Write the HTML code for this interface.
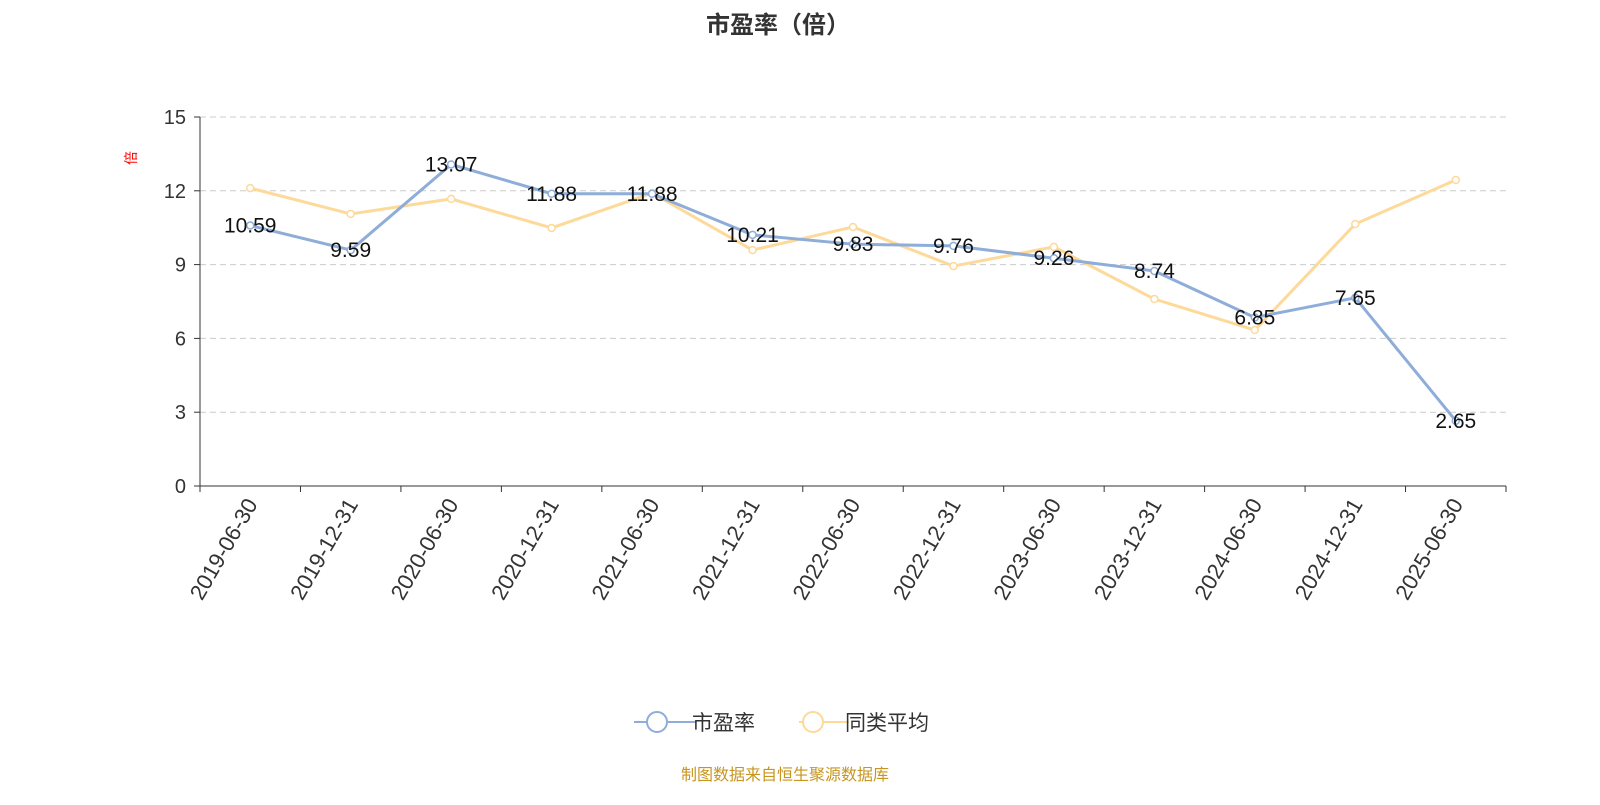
<!DOCTYPE html>
<html><head><meta charset="utf-8"><style>
body{margin:0;background:#fff;}
svg text{font-family:"Liberation Sans","Noto Sans CJK SC",sans-serif;}
</style></head><body>
<svg id="chart" width="1600" height="800" xmlns="http://www.w3.org/2000/svg">
<text x="778" y="33" text-anchor="middle" font-size="24" font-weight="bold" fill="#333">市盈率（倍）</text>
<text x="0" y="0" transform="translate(136,158) rotate(-90)" text-anchor="middle" font-size="14" fill="#f00">倍</text>
<g id="grid"></g><g id="axes"></g><g id="series"></g>
<g>
<g>
<line x1="634" y1="722" x2="696" y2="722" stroke="#8eadd9" stroke-width="2"/>
<circle cx="657" cy="722" r="10" fill="#fff" stroke="#8eadd9" stroke-width="2"/>
<text x="692" y="730" font-size="21" fill="#333">市盈率</text></g>
<g>
<line x1="799" y1="722" x2="849" y2="722" stroke="#fdd99a" stroke-width="2"/>
<circle cx="813" cy="722" r="10" fill="#fff" stroke="#fdd99a" stroke-width="2"/>
<text x="845" y="730" font-size="21" fill="#333">同类平均</text></g>
</g>
<text x="785" y="780" text-anchor="middle" font-size="16" fill="#c8961e">制图数据来自恒生聚源数据库</text>
</svg>
<script>
const categories=["2019-06-30","2019-12-31","2020-06-30","2020-12-31","2021-06-30","2021-12-31","2022-06-30","2022-12-31","2023-06-30","2023-12-31","2024-06-30","2024-12-31","2025-06-30"];
const peValues=[10.59,9.59,13.07,11.88,11.88,10.21,9.83,9.76,9.26,8.74,6.85,7.65,2.65];
const peerValues=[12.11,11.06,11.67,10.49,11.91,9.59,10.53,8.94,9.72,7.60,6.34,10.65,12.44];
const yTicks=[0,3,6,9,12,15];
const NS="http://www.w3.org/2000/svg";
const x0=200,x1=1506,y0=486,y1=117,yMax=15;
const step=(x1-x0)/categories.length;
const xs=i=>x0+step*(i+0.5);
const ys=v=>y0-(v/yMax)*(y0-y1);
function mk(tag,attrs,parent,txt){const e=document.createElementNS(NS,tag);for(const k in attrs)e.setAttribute(k,attrs[k]);if(txt!==undefined)e.textContent=txt;parent.appendChild(e);return e;}
const grid=document.getElementById('grid'),axes=document.getElementById('axes'),ser=document.getElementById('series');
yTicks.forEach(t=>{
  if(t>0){const g=mk('line',{x1:x0,x2:x1,y1:ys(t),y2:ys(t),stroke:'#ccc','stroke-dasharray':'6,4'},grid);
  
  }
  const tk=mk('line',{x1:x0-6,x2:x0,y1:ys(t),y2:ys(t),stroke:'#333'},axes);
  
  
  const tl=mk('text',{x:x0-14,y:ys(t)+7,'text-anchor':'end','font-size':20,fill:'#333'},axes,String(t));
  
  
});
const ya=mk('line',{x1:x0,x2:x0,y1:y1,y2:y0,stroke:'#333'},axes);


const xa=mk('line',{x1:x0,x2:x1,y1:y0,y2:y0,stroke:'#333'},axes);


for(let i=0;i<=categories.length;i++){
  const t=mk('line',{x1:x0+step*i,x2:x0+step*i,y1:y0,y2:y0+6,stroke:'#333'},axes);
  
  
}
categories.forEach((c,i)=>{
  const x=xs(i)+8,y=y0+18;
  const t=mk('text',{x:x,y:y,'text-anchor':'end','font-size':22,fill:'#333',transform:`rotate(-60 ${x} ${y})`},axes,c);
  
  
});
function series(vals,color,name){
  const p=mk('polyline',{points:vals.map((v,i)=>xs(i)+','+ys(v)).join(' '),fill:'none',stroke:color,'stroke-width':3,'stroke-linejoin':'round'},ser);
  
  
  vals.forEach((v,i)=>{
    const c=mk('circle',{cx:xs(i),cy:ys(v),r:3.5,fill:'#fff',stroke:color,'stroke-width':1.5},ser);
    
    
  });
}
series(peerValues,'#fdd99a','peer-average');
series(peValues,'#8eadd9','pe');
peValues.forEach((v,i)=>{
  const t=mk('text',{x:xs(i),y:ys(v)+7,'text-anchor':'middle','font-size':21,fill:'#111'},ser,v.toFixed(2));
  
  
});
</script>
</body></html>
